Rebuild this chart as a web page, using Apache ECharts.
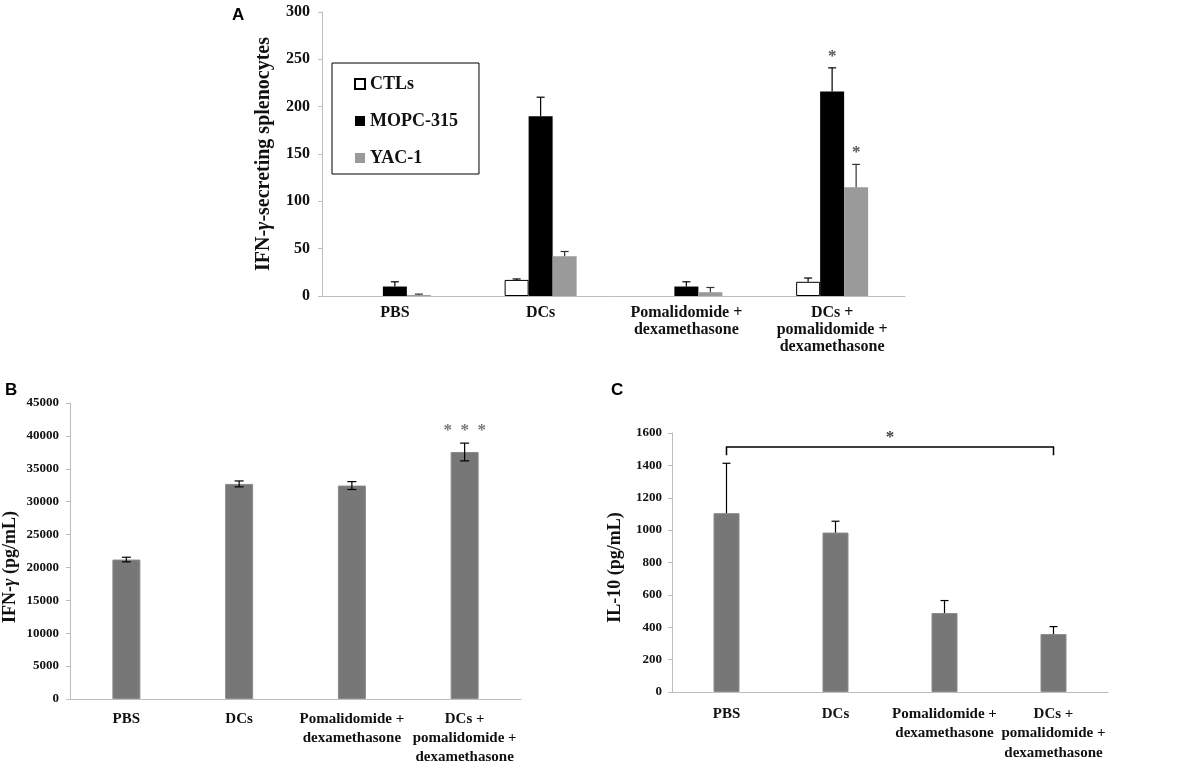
<!DOCTYPE html>
<html><head><meta charset="utf-8">
<script src="https://cdn.jsdelivr.net/npm/echarts@6/dist/echarts.min.js"></script>
<style>html,body{margin:0;padding:0;background:#fff}#c{width:1195px;height:768px}</style>
</head><body><div id="c"></div>
<script>
// ---------- Data ----------
const categoriesA = ['PBS', 'DCs', 'Pomalidomide +\ndexamethasone', 'DCs +\npomalidomide +\ndexamethasone'];
const categoriesBC = ['PBS', 'DCs', 'Pomalidomide +\ndexamethasone', 'DCs +\npomalidomide +\ndexamethasone'];
const seriesNamesA = ['CTLs', 'MOPC-315', 'YAC-1'];
const ctlsValues = [0, 17, 0, 15];
const ctlsErrors = [0, 1, 0, 4];
const mopcValues = [10, 190, 10, 216];
const mopcErrors = [5, 20, 5, 25];
const yacValues = [1, 42, 4, 115];
const yacErrors = [1, 5, 5, 24];
const sigA = [[3, 1], [3, 2]]; // [category, series index] marked with *
const ifnValues = [21200, 32700, 32450, 37550];
const ifnErrors = [350, 450, 600, 1350];
const sigB = [3];
const il10Values = [1105, 985, 488, 358];
const il10Errors = [308, 70, 77, 46];
const bracketC = [0, 3, 1513, 1462]; // from cat, to cat, bracket value, end value
const yTicksA = {min: 0, max: 300, interval: 50};
const yTicksB = {min: 0, max: 45000, interval: 5000};
const yTicksC = {min: 0, max: 1600, interval: 200};

// ---------- Chart ----------
const serif = 'Liberation Serif';
const axisGrey = '#bdbdbd';
const chart = echarts.init(document.getElementById('c'), null, {renderer: 'canvas'});

function yAxis(grid, ticks, name, fs, nameFs, gap, namePad, margin) {
  return {
    type: 'value', gridIndex: grid, min: ticks.min, max: ticks.max, interval: ticks.interval,
    name: name, nameLocation: 'middle', nameGap: gap,
    nameTextStyle: {fontFamily: serif, fontWeight: 'bold', fontSize: nameFs, color: '#111', padding: namePad,
      rich: {g: {fontFamily: serif, fontWeight: 'bold', fontStyle: 'italic', fontSize: nameFs, color: '#111'}}},
    axisLine: {show: true, lineStyle: {color: axisGrey, width: 1}},
    axisTick: {show: true, length: 4, lineStyle: {color: axisGrey}},
    splitLine: {show: false},
    axisLabel: {fontFamily: serif, fontWeight: 'bold', fontSize: fs, color: '#111', margin: margin,
      formatter: v => String(v)}
  };
}
function xAxis(grid, cats, fs, lh, margin) {
  return {
    type: 'category', gridIndex: grid, data: cats,
    axisLine: {show: true, lineStyle: {color: axisGrey, width: 1}},
    axisTick: {show: false},
    axisLabel: {fontFamily: serif, fontWeight: 'bold', fontSize: fs, lineHeight: lh, color: '#111', margin: margin, interval: 0}
  };
}

function errSeries(xi, yi, vals, errs, offset, both, color, cap) {
  return {
    type: 'custom', xAxisIndex: xi, yAxisIndex: yi, z: 5, silent: true,
    data: vals.map((v, i) => [i, v, errs[i]]),
    encode: {x: 0, y: 1},
    renderItem: function (params, api) {
      const i = api.value(0), v = api.value(1), e = api.value(2);
      if (!e) return null;
      const top = api.coord([i, v + e]);
      const bot = api.coord([i, both ? v - e : v]);
      const x = top[0] + offset;
      const ch = [
        {type: 'line', shape: {x1: x, y1: top[1], x2: x, y2: bot[1]}, style: {stroke: color, lineWidth: 1.2}},
        {type: 'line', shape: {x1: x - cap / 2, y1: top[1], x2: x + cap / 2, y2: top[1]}, style: {stroke: color, lineWidth: 1.2}}
      ];
      if (both) ch.push({type: 'line', shape: {x1: x - cap / 2, y1: bot[1], x2: x + cap / 2, y2: bot[1]}, style: {stroke: color, lineWidth: 1.2}});
      return {type: 'group', children: ch};
    }
  };
}

function barData(vals) {
  return vals.map(v => v === 0 ? {value: 0, itemStyle: {borderWidth: 0}} : v);
}

const barW = 24;
const aVals = [ctlsValues, mopcValues, yacValues];
const aErrs = [ctlsErrors, mopcErrors, yacErrors];
const aColors = ['#ffffff', '#000000', '#9a9a9a'];
const aErrColors = ['#000', '#000', '#333'];

const series = [];
seriesNamesA.forEach((n, k) => {
  series.push({
    name: n, type: 'bar', xAxisIndex: 0, yAxisIndex: 0, barWidth: barW, barGap: '0%',
    data: barData(aVals[k]),
    itemStyle: {color: aColors[k], borderColor: k === 0 ? '#000' : aColors[k], borderWidth: k === 0 ? 1 : 0},
    emphasis: {disabled: true}
  });
});
seriesNamesA.forEach((n, k) => {
  series.push(errSeries(0, 0, aVals[k], aErrs[k], (k - 1) * barW, false, aErrColors[k], 8));
});
// asterisks A
series.push({
  type: 'custom', xAxisIndex: 0, yAxisIndex: 0, z: 6, silent: true,
  data: sigA.map(s => [s[0], aVals[s[1]][s[0]] + aErrs[s[1]][s[0]], s[1]]),
  encode: {x: 0, y: 1},
  renderItem: function (params, api) {
    const p = api.coord([api.value(0), api.value(1)]);
    return {type: 'text', x: p[0] + (api.value(2) - 1) * barW, y: p[1] - 3,
      style: {text: '*', fill: '#555', font: 'bold 17px ' + serif, textAlign: 'center', textVerticalAlign: 'bottom'}};
  }
});

// B
series.push({type: 'bar', xAxisIndex: 1, yAxisIndex: 1, barWidth: 28, data: ifnValues,
  itemStyle: {color: '#777777', borderColor: '#8a8a8a', borderWidth: 1}, emphasis: {disabled: true}});
series.push(errSeries(1, 1, ifnValues, ifnErrors, 0, true, '#000', 9));
series.push({
  type: 'custom', xAxisIndex: 1, yAxisIndex: 1, z: 6, silent: true,
  data: sigB.map(i => [i, ifnValues[i] + ifnErrors[i]]),
  encode: {x: 0, y: 1},
  renderItem: function (params, api) {
    const p = api.coord([api.value(0), api.value(1)]);
    return {type: 'text', x: p[0], y: p[1] - 4,
      style: {text: '*  *  *', fill: '#777', font: 'bold 17px ' + serif, textAlign: 'center', textVerticalAlign: 'bottom'}};
  }
});

// C
series.push({type: 'bar', xAxisIndex: 2, yAxisIndex: 2, barWidth: 26, data: il10Values,
  itemStyle: {color: '#777777', borderColor: '#8a8a8a', borderWidth: 1}, emphasis: {disabled: true}});
series.push(errSeries(2, 2, il10Values, il10Errors, 0, false, '#000', 8));
series.push({
  type: 'custom', xAxisIndex: 2, yAxisIndex: 2, z: 6, silent: true,
  data: [bracketC],
  encode: {x: 0, y: 2},
  renderItem: function (params, api) {
    const a = api.coord([api.value(0), api.value(2)]);
    const b = api.coord([api.value(1), api.value(2)]);
    const e = api.coord([api.value(0), api.value(3)]);
    const st = {stroke: '#000', lineWidth: 1.5, fill: null};
    return {type: 'group', children: [
      {type: 'polyline', shape: {points: [[a[0], e[1]], [a[0], a[1]], [b[0], b[1]], [b[0], e[1]]]}, style: st},
      {type: 'text', x: (a[0] + b[0]) / 2, y: a[1] - 1,
        style: {text: '*', fill: '#444', font: 'bold 17px ' + serif, textAlign: 'center', textVerticalAlign: 'bottom'}}
    ]};
  }
});

const option = {
  animation: false,
  backgroundColor: '#fff',
  title: [
    {text: 'A', left: 227, top: 2, textStyle: {fontFamily: 'Liberation Sans', fontWeight: 'bold', fontSize: 17, color: '#000'}},
    {text: 'B', left: 0, top: 377, textStyle: {fontFamily: 'Liberation Sans', fontWeight: 'bold', fontSize: 17, color: '#000'}},
    {text: 'C', left: 606, top: 377, textStyle: {fontFamily: 'Liberation Sans', fontWeight: 'bold', fontSize: 17, color: '#000'}}
  ],
  legend: {
    data: seriesNamesA, orient: 'vertical', left: 332, top: 63,
    icon: 'rect',
    itemWidth: 10, itemHeight: 10, itemGap: 19,
    padding: [12, 21, 7, 22],
    borderColor: '#000', borderWidth: 1,
    selectedMode: false,
    textStyle: {fontFamily: serif, fontWeight: 'bold', fontSize: 18, color: '#111'}
  },
  grid: [
    {left: 322, right: 290, top: 12, bottom: 472},
    {left: 67, right: 674, top: 403, bottom: 69},
    {left: 672, right: 87, top: 433, bottom: 76}
  ],
  xAxis: [
    xAxis(0, categoriesA, 16, 17, 8),
    xAxis(1, categoriesBC, 15, 19, 11),
    xAxis(2, categoriesBC, 15, 19.5, 12)
  ],
  yAxis: [
    yAxis(0, yTicksA, 'IFN-{g|γ}-secreting splenocytes', 16, 20, 48, [0, 0, 0, 0], 12),
    yAxis(1, yTicksB, 'IFN-{g|γ} (pg/mL)', 13, 18, 51, [0, 32, 0, 0], 11),
    yAxis(2, yTicksC, 'IL-10 (pg/mL)', 13, 18, 48, [0, 10, 0, 0], 10)
  ],
  series: series
};
chart.setOption(option);
</script></body></html>
